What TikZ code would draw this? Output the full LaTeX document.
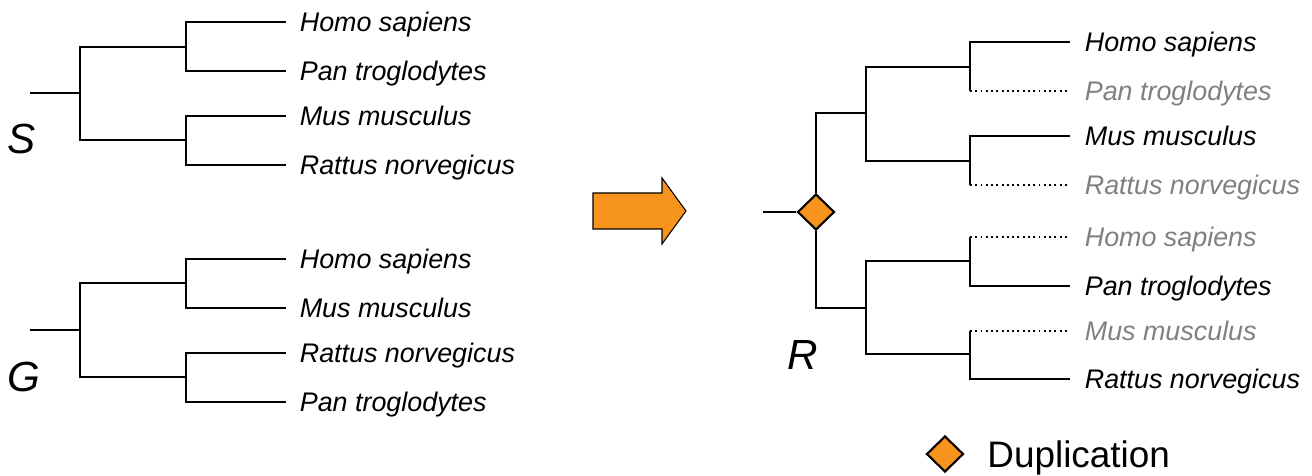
\documentclass[tikz,border=0pt]{standalone}
\usepackage{fontspec}
\setmainfont{Liberation Sans}
\usetikzlibrary{
  calc,
  positioning,
  shapes.geometric
}
\definecolor{dupfill}{HTML}{F7941D}
\definecolor{lossgray}{HTML}{808080}
\definecolor{branchink}{HTML}{000000}

\begin{document}
\begin{tikzpicture}[
  x=0.02cm, y=-0.02cm,
  branch/.style={line width=1.35pt, branchink},
  lost/.style={line width=1.35pt, branchink, dash pattern=on 1.1pt off 1.9pt},
  species/.style={font=\fontsize{15.3}{18}\selectfont\itshape, inner sep=0pt,
    text height=11pt, text depth=0pt, anchor=west},
  kept/.style={text=black},
  gone/.style={text=lossgray},
  treename/.style={font=\fontsize{24}{28}\selectfont\itshape, inner sep=0pt},
  dupnode/.style={diamond, draw=black, fill=dupfill, line width=1.2pt,
    inner sep=0pt, minimum width=0.74cm, minimum height=0.72cm},
  legendtext/.style={font=\fontsize{21}{25}\selectfont, inner sep=0pt,
    text height=15pt, text depth=0pt},
]
\useasboundingbox (0,0) rectangle (1312,476);

% ═══════════════════════════════════════════
% SPECIES TREE S
% ═══════════════════════════════════════════
\coordinate (s0) at (30,93);
\coordinate (sr) at (80,93);
\coordinate (sa) at (186,47);
\coordinate (sb) at (186,140);
\coordinate (s1) at (286,22);
\coordinate (s2) at (286,71);
\coordinate (s3) at (286,116);
\coordinate (s4) at (286,165);

\draw[branch] (s0) -- (sr);
\draw[branch] (sr) |- (sa) (sr) |- (sb);
\draw[branch] (sa) |- (s1) (sa) |- (s2);
\draw[branch] (sb) |- (s3) (sb) |- (s4);

\foreach \i/\sp in {1/Homo sapiens, 2/Pan troglodytes,
                    3/Mus musculus, 4/Rattus norvegicus} {
  \node[species, right=0.27cm of s\i] (sl\i) {\sp};
}
\node[treename] (slabel) at (22,139) {S};

% ═══════════════════════════════════════════
% GENE TREE G
% ═══════════════════════════════════════════
\coordinate (g0) at (30,330);
\coordinate (gr) at (80,330);
\coordinate (ga) at (186,283);
\coordinate (gb) at (186,377);
\coordinate (g1) at (286,259);
\coordinate (g2) at (286,308);
\coordinate (g3) at (286,353);
\coordinate (g4) at (286,402);

\draw[branch] (g0) -- (gr);
\draw[branch] (gr) |- (ga) (gr) |- (gb);
\draw[branch] (ga) |- (g1) (ga) |- (g2);
\draw[branch] (gb) |- (g3) (gb) |- (g4);

\foreach \i/\sp in {1/Homo sapiens, 2/Mus musculus,
                    3/Rattus norvegicus, 4/Pan troglodytes} {
  \node[species, right=0.27cm of g\i] (gl\i) {\sp};
}
\node[treename] (glabel) at (24,377) {G};

% ═══════════════════════════════════════════
% BIG ARROW
% ═══════════════════════════════════════════
\filldraw[fill=dupfill, draw=black, line width=0.6pt, line join=miter]
  (593,193) -- (662,193) -- (662,178) -- (686,211)
  -- (662,244) -- (662,229) -- (593,229) -- cycle;

% ═══════════════════════════════════════════
% RECONCILED TREE R
% ═══════════════════════════════════════════
\coordinate (r0) at (763,212);
\node[dupnode] (dup) at (816,212) {};
\coordinate (ra) at (866,113);
\coordinate (rb) at (866,308);
\coordinate (raa) at (970,67);
\coordinate (rab) at (970,161);
\coordinate (rba) at (970,261);
\coordinate (rbb) at (970,354);
\coordinate (r1) at (1070,42);
\coordinate (r2) at (1070,91);
\coordinate (r3) at (1070,136);
\coordinate (r4) at (1070,185);
\coordinate (r5) at (1070,237);
\coordinate (r6) at (1070,286);
\coordinate (r7) at (1070,331);
\coordinate (r8) at (1070,379);

\draw[branch] (r0) -- (dup.west);
\draw[branch] (dup.north) |- (ra) (dup.south) |- (rb);
\draw[branch] (ra) |- (raa) (ra) |- (rab);
\draw[branch] (rb) |- (rba) (rb) |- (rbb);

% kept leaves: solid, lost leaves: dotted
\draw[branch] (raa) |- (r1) (raa) -- (raa |- r2);
\draw[lost] (raa |- r2) -- (r2);
\draw[branch] (rab) |- (r3) (rab) -- (rab |- r4);
\draw[lost] (rab |- r4) -- (r4);
\draw[branch] (rba) |- (r6) (rba) -- (rba |- r5);
\draw[lost] (rba |- r5) -- (r5);
\draw[branch] (rbb) |- (r8) (rbb) -- (rbb |- r7);
\draw[lost] (rbb |- r7) -- (r7);

\foreach \i/\sp/\st in {1/Homo sapiens/kept, 2/Pan troglodytes/gone,
                        3/Mus musculus/kept, 4/Rattus norvegicus/gone,
                        5/Homo sapiens/gone, 6/Pan troglodytes/kept,
                        7/Mus musculus/gone, 8/Rattus norvegicus/kept} {
  \node[species, \st, right=0.29cm of r\i] (rl\i) {\sp};
}
\node[treename] (rlabel) at (803,355) {R};

% ═══════════════════════════════════════════
% LEGEND
% ═══════════════════════════════════════════
\node[dupnode] (legdup) at (945,454) {};
\node[legendtext, right=0.45cm of legdup] (legtxt) {Duplication};

\end{tikzpicture}
\end{document}
